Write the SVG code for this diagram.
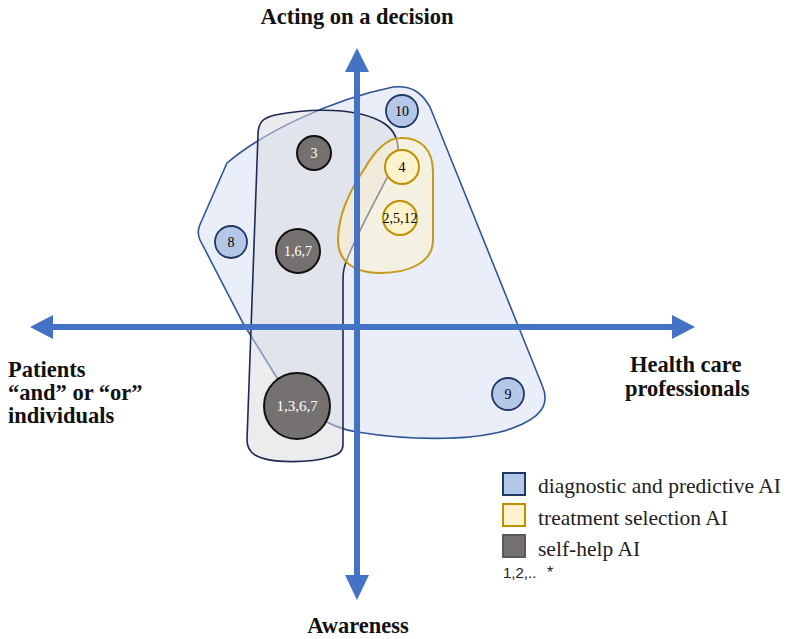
<svg xmlns="http://www.w3.org/2000/svg" width="788" height="639" viewBox="0 0 788 639">
<defs>
<style>
.axis{stroke:#4472c4;stroke-width:6;fill:none}
.head{fill:#4472c4}
.title{font-family:"Liberation Serif","DejaVu Serif",serif;font-weight:bold;font-size:22.5px;fill:#111}
.lbl{font-family:"Liberation Serif","DejaVu Serif",serif;font-size:14px;text-anchor:middle}
.leg{font-family:"Liberation Serif","DejaVu Serif",serif;font-size:21.5px;fill:#222}
.blue{fill:#b4c7e7;stroke:#1f3864;stroke-width:1.8}
.yel{fill:#fff2cc;stroke:#bf9000;stroke-width:2}
.gry{fill:#767171;stroke:#111;stroke-width:2}
</style>
</defs>
<rect width="788" height="639" fill="#fff"/>
<g id="region-diagnostic">
<path d="M 393,87 C 412,85 422,93 430,107 L 542,385 C 551,405 540,418 513,428 C 480,440 420,442 357,432 C 330,428 300,410 277,378 L 243,323 L 200,240 C 197,233 198,228 202,220 L 227,163 C 262,133 330,100 393,87 Z" fill="#dae3f3" fill-opacity="0.6" stroke="#2f5597" stroke-width="1.6"/>
</g>
<g id="region-selfhelp">
<path d="M 258,135 C 258,122 263,118 275,115 C 310,108 360,107 385,124 C 395,131 399,142 398,155 C 385,185 360,225 346,262 C 343,270 343,275 343,285 L 343,445 C 343,452 338,455 330,457 C 310,463 270,464 255,455 C 249,451 247,446 247,440 L 258,135 Z" fill="#d9d9de" fill-opacity="0.5" stroke="#1f2a50" stroke-width="1.6"/>
</g>
<g id="region-treatment">
<path d="M 400,138 C 421,137 433,150 433,172 L 433,240 C 433,262 410,273 380,273 C 355,273 338,262 338,240 C 338,215 350,190 365,168 C 375,150 388,138 400,138 Z" fill="#fff2cc" fill-opacity="0.5" stroke="#c49a1c" stroke-width="2"/>
</g>
<g id="connectors">
<line class="axis" x1="357" y1="70" x2="357" y2="577"/>
<polygon class="head" points="357,48 345,72 369,72"/>
<polygon class="head" points="357,600 345,575 369,575"/>
<line class="axis" x1="50" y1="327" x2="674" y2="327"/>
<polygon class="head" points="30,327 53,315 53,339"/>
<polygon class="head" points="695,327 672,315 672,339"/>
</g>
<g id="node-10"><circle class="blue" cx="402" cy="111" r="16"/><text class="lbl" x="402" y="116">10</text></g>
<g id="node-3"><circle class="gry" cx="314" cy="153" r="17"/><text class="lbl" x="314" y="158" fill="#fff">3</text></g>
<g id="node-4"><circle class="yel" cx="402" cy="167" r="17"/><text class="lbl" x="402" y="172">4</text></g>
<g id="node-2-5-12"><circle class="yel" cx="400" cy="218" r="17"/><text class="lbl" x="400" y="223">2,5,12</text></g>
<g id="node-8"><circle class="blue" cx="231" cy="242" r="16"/><text class="lbl" x="231" y="247">8</text></g>
<g id="node-1-6-7"><circle class="gry" cx="298" cy="251" r="22"/><text class="lbl" x="298" y="256" fill="#fff">1,6,7</text></g>
<g id="node-1-3-6-7"><circle class="gry" cx="297" cy="406" r="33"/><text class="lbl" x="297" y="411" fill="#fff" style="font-size:15px">1,3,6,7</text></g>
<g id="node-9"><circle class="blue" cx="508" cy="394" r="16"/><text class="lbl" x="508" y="399">9</text></g>
<g id="labels">
<text class="title" x="357" y="24" text-anchor="middle">Acting on a decision</text>
<text class="title" x="358" y="633" text-anchor="middle">Awareness</text>
<text class="title" x="8" y="377">Patients</text>
<text class="title" x="8" y="400">“and” or “or”</text>
<text class="title" x="8" y="423">individuals</text>
<text class="title" x="630" y="372">Health care</text>
<text class="title" x="625" y="396">professionals</text>
</g>
<g id="legend">
<rect x="503" y="473" width="22" height="22" fill="#b4c7e7" stroke="#1f3864" stroke-width="2"/>
<text class="leg" x="538" y="493">diagnostic and predictive AI</text>
<rect x="503" y="504" width="22" height="22" fill="#fff2cc" stroke="#bf9000" stroke-width="2"/>
<text class="leg" x="538" y="525">treatment selection AI</text>
<rect x="503" y="535" width="22" height="22" fill="#767171" stroke="#595959" stroke-width="2"/>
<text class="leg" x="538" y="556">self-help AI</text>
<text x="503" y="578" style="font-family:'Liberation Sans',Arial,sans-serif;font-size:15px;fill:#222">1,2,..</text>
<text x="547" y="578" style="font-family:'Liberation Sans',Arial,sans-serif;font-size:16px;fill:#222">*</text>
</g>
</svg>
